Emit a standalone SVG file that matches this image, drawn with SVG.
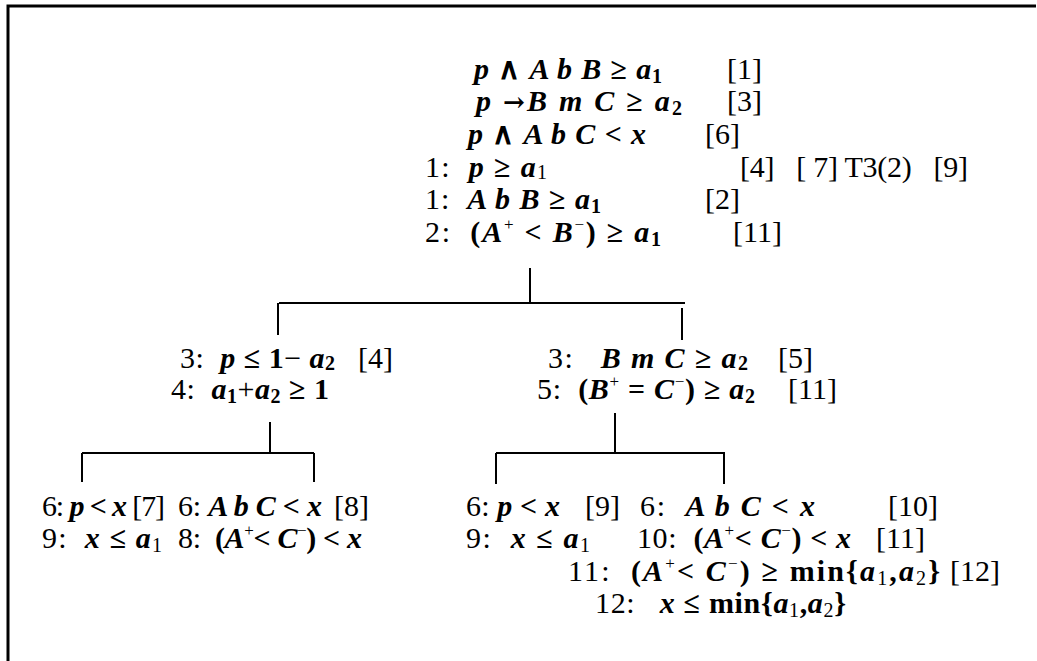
<svg xmlns="http://www.w3.org/2000/svg" width="1037" height="661" viewBox="0 0 1037 661">
<style>
text{font-family:"Liberation Serif","Times New Roman",serif;font-size:30px;fill:#000;white-space:pre}
.m{font-weight:bold;font-style:italic}
.b{font-weight:bold}
.s{font-size:20px}
.p{font-size:17px}
.ar{font-family:"DejaVu Serif",serif;font-weight:bold;font-size:26px}
.ln{stroke:#000;stroke-width:2;fill:none}
</style>
<rect width="1037" height="661" fill="#fff"/>
<path d="M8,661 V6 H1036" stroke="#000" stroke-width="3" fill="none"/>
<g id="connectors">
<path class="ln" d="M530,268 V302 M279,303 H685 M278,303 V335 M682,308 V340"/>
<path class="ln" d="M270,422 V453 M82,453 H314 M82,453 V482 M314,453 V482"/>
<path class="ln" d="M615,413 V453 M496,453 H725 M496,453 V484 M724,453 V484"/>
</g>
<g id="root">
<text x="474" y="79" textLength="188" lengthAdjust="spacing" xml:space="preserve"><tspan class="m">p </tspan><tspan class="b">∧ </tspan><tspan class="m">A b B </tspan><tspan class="b">≥ </tspan><tspan class="m">a</tspan><tspan class="s b" dy="4">1</tspan></text>
<text x="727" y="79">[1]</text>
<text x="476" y="111" textLength="206" lengthAdjust="spacing" xml:space="preserve"><tspan class="m">p </tspan><tspan class="ar">→</tspan><tspan class="m">B m C </tspan><tspan class="b">≥ </tspan><tspan class="m">a</tspan><tspan class="s b" dy="4">2</tspan></text>
<text x="727" y="111">[3]</text>
<text x="468" y="144" textLength="178" lengthAdjust="spacing" xml:space="preserve"><tspan class="m">p </tspan><tspan class="b">∧ </tspan><tspan class="m">A b C </tspan><tspan class="b">&lt; </tspan><tspan class="m">x</tspan></text>
<text x="705" y="144">[6]</text>
<text x="425" y="177" textLength="122" lengthAdjust="spacing" xml:space="preserve">1:  <tspan class="m">p </tspan><tspan class="b">≥ </tspan><tspan class="m">a</tspan><tspan class="s" dy="2">1</tspan></text>
<text x="740" y="177" textLength="228" lengthAdjust="spacing" xml:space="preserve">[4]   [ 7] T3(2)   [9]</text>
<text x="425" y="209" textLength="176" lengthAdjust="spacing" xml:space="preserve">1:  <tspan class="m">A b B </tspan><tspan class="b">≥ </tspan><tspan class="m">a</tspan><tspan class="s b" dy="4">1</tspan></text>
<text x="705" y="209">[2]</text>
<text x="425" y="242" textLength="236" lengthAdjust="spacing" xml:space="preserve">2:  <tspan class="b">(</tspan><tspan class="m">A</tspan><tspan class="p" dy="-12">+</tspan><tspan class="b" dy="12"> &lt; </tspan><tspan class="m">B</tspan><tspan class="p" dy="-12">−</tspan><tspan class="b" dy="12">) ≥ </tspan><tspan class="m">a</tspan><tspan class="s b" dy="4">1</tspan></text>
<text x="733" y="242">[11]</text>
</g>
<g id="left-branch">
<text x="180" y="368" textLength="155" lengthAdjust="spacing" xml:space="preserve">3:  <tspan class="m">p </tspan><tspan class="b">≤ 1</tspan>− <tspan class="m">a</tspan><tspan class="s b" dy="2">2</tspan></text>
<text x="358" y="368">[4]</text>
<text x="171" y="399" textLength="158" lengthAdjust="spacing" xml:space="preserve">4:  <tspan class="m">a</tspan><tspan class="s b" dy="4">1</tspan><tspan dy="-4">+</tspan><tspan class="m">a</tspan><tspan class="s b" dy="4">2</tspan><tspan class="b" dy="-4"> ≥ 1</tspan></text>
</g>
<g id="right-branch">
<text x="548" y="368" textLength="200" lengthAdjust="spacing" xml:space="preserve">3:   <tspan class="m">B m C </tspan><tspan class="b">≥ </tspan><tspan class="m">a</tspan><tspan class="s b" dy="2">2</tspan></text>
<text x="778" y="368">[5]</text>
<text x="537" y="399" textLength="218" lengthAdjust="spacing" xml:space="preserve">5:  <tspan class="b">(</tspan><tspan class="m">B</tspan><tspan class="p" dy="-12">+</tspan><tspan class="b" dy="12"> = </tspan><tspan class="m">C</tspan><tspan class="p" dy="-12">−</tspan><tspan class="b" dy="12">) ≥ </tspan><tspan class="m">a</tspan><tspan class="s b" dy="4">2</tspan></text>
<text x="788" y="399">[11]</text>
</g>
<g id="leaf-left-1">
<text x="42" y="516" textLength="123" lengthAdjust="spacing" xml:space="preserve">6: <tspan class="m">p </tspan><tspan class="b">&lt; </tspan><tspan class="m">x </tspan>[7]</text>
<text x="42" y="548" textLength="120" lengthAdjust="spacing" xml:space="preserve">9:  <tspan class="m">x </tspan><tspan class="b">≤ </tspan><tspan class="m">a</tspan><tspan class="s" dy="4">1</tspan></text>
</g>
<g id="leaf-left-2">
<text x="178" y="516" textLength="144" lengthAdjust="spacing" xml:space="preserve">6: <tspan class="m">A b C </tspan><tspan class="b">&lt; </tspan><tspan class="m">x</tspan></text>
<text x="334" y="516">[8]</text>
<text x="178" y="548" textLength="184" lengthAdjust="spacing" xml:space="preserve">8:  <tspan class="b">(</tspan><tspan class="m">A</tspan><tspan class="p" dy="-12">+</tspan><tspan class="b" dy="12">&lt; </tspan><tspan class="m">C</tspan><tspan class="p" dy="-12">−</tspan><tspan class="b" dy="12">) &lt; </tspan><tspan class="m">x</tspan></text>
</g>
<g id="leaf-right-1">
<text x="466" y="516" textLength="94" lengthAdjust="spacing" xml:space="preserve">6: <tspan class="m">p </tspan><tspan class="b">&lt; </tspan><tspan class="m">x</tspan></text>
<text x="585" y="516">[9]</text>
<text x="466" y="548" textLength="124" lengthAdjust="spacing" xml:space="preserve">9:  <tspan class="m">x </tspan><tspan class="b">≤ </tspan><tspan class="m">a</tspan><tspan class="s" dy="4">1</tspan></text>
</g>
<g id="leaf-right-2">
<text x="640" y="516" textLength="175" lengthAdjust="spacing" xml:space="preserve">6:  <tspan class="m">A b C </tspan><tspan class="b">&lt; </tspan><tspan class="m">x</tspan></text>
<text x="888" y="516">[10]</text>
<text x="637" y="548" textLength="214" lengthAdjust="spacing" xml:space="preserve">10:  <tspan class="b">(</tspan><tspan class="m">A</tspan><tspan class="p" dy="-12">+</tspan><tspan class="b" dy="12">&lt; </tspan><tspan class="m">C</tspan><tspan class="p" dy="-12">−</tspan><tspan class="b" dy="12">) &lt; </tspan><tspan class="m">x</tspan></text>
<text x="876" y="548">[11]</text>
<text x="568" y="581" textLength="372" lengthAdjust="spacing" xml:space="preserve">11:  <tspan class="b">(</tspan><tspan class="m">A</tspan><tspan class="p" dy="-12">+</tspan><tspan class="b" dy="12">&lt; </tspan><tspan class="m">C</tspan><tspan class="p" dy="-12">−</tspan><tspan class="b" dy="12">) ≥ min{</tspan><tspan class="m">a</tspan><tspan class="s" dy="4">1</tspan><tspan class="b" dy="-4">,</tspan><tspan class="m">a</tspan><tspan class="s" dy="4">2</tspan><tspan class="b" dy="-4">}</tspan></text>
<text x="950" y="581">[12]</text>
<text x="595" y="613" textLength="251" lengthAdjust="spacing" xml:space="preserve">12:   <tspan class="m">x </tspan><tspan class="b">≤ min{</tspan><tspan class="m">a</tspan><tspan class="s" dy="4">1</tspan><tspan class="b" dy="-4">,</tspan><tspan class="m">a</tspan><tspan class="s" dy="4">2</tspan><tspan class="b" dy="-4">}</tspan></text>
</g>
</svg>
